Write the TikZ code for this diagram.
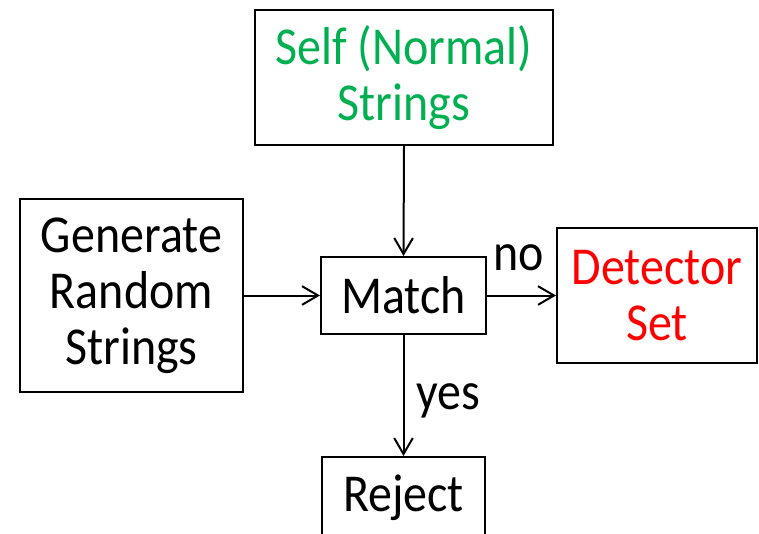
\documentclass[tikz,border=0pt]{standalone}
\usepackage{fontspec}
\setmainfont[FakeStretch=0.9]{Carlito}
\usetikzlibrary{arrows.meta}

\tikzset{every picture/.style={line width=1.5pt}}
\tikzset{
  blockbox/.style={draw, line width=1.5pt, align=center, inner sep=0pt,
    font=\fontsize{40}{42}\selectfont},
  flowarrow/.style={-{Straight Barb[length=12pt,width=14pt,line width=1.5pt]}, line width=1.5pt},
  edgetext/.style={font=\fontsize{40}{42}\selectfont, inner sep=0pt}
}
\definecolor{selfgreen}{RGB}{0,176,80}
\definecolor{detred}{RGB}{255,0,0}

\begin{document}
\begin{tikzpicture}[x=0.75pt,y=0.75pt,yscale=-1,xscale=1]
\clip (0,0) rectangle (759,533);

%Shape: Self strings
\node [blockbox, text=selfgreen, minimum width=298*0.75pt, minimum height=135*0.75pt] (self) at (404,77.5) {Self (Normal)\\Strings};
%Shape: Generator
\node [blockbox, minimum width=223*0.75pt, minimum height=193*0.75pt] (gen) at (131.5,295.5) {Generate\\Random\\Strings};
%Shape: Match
\node [blockbox, minimum width=165*0.75pt, minimum height=77*0.75pt] (match) at (403.5,295.5) {Match};
%Shape: Detector set
\node [blockbox, text=detred, minimum width=200*0.75pt, minimum height=135*0.75pt] (det) at (657,295.5) {Detector\\Set};
%Shape: Reject (cut by the bottom edge)
\node [blockbox, minimum width=163*0.75pt, minimum height=82*0.75pt] (rej) at (403.5,498) {Reject};

%Straight Lines
\draw [flowarrow] (self.south) -- (match.north);
\draw [flowarrow] (gen.east) -- (match.west);
\draw [flowarrow] (match.east) -- (det.west);
\draw [flowarrow] (match.south) -- (rej.north);

% Text Node
\node [edgetext] (nolabel) at (519,258) {no};
% Text Node
\node [edgetext] (yeslabel) at (448,401) {yes};

\end{tikzpicture}
\end{document}
